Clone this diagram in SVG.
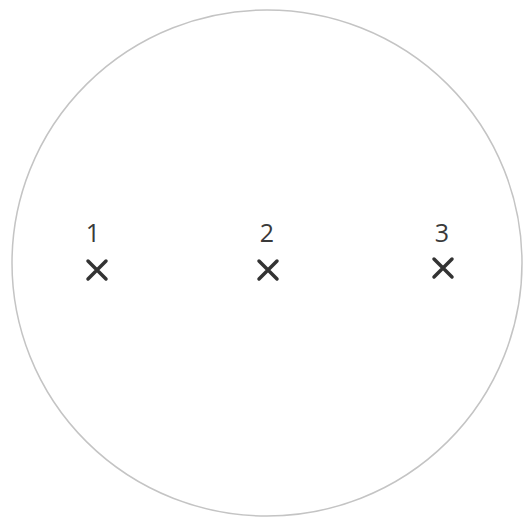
<svg xmlns="http://www.w3.org/2000/svg" width="524" height="519" viewBox="0 0 524 519">
<style>
.mark{stroke:#333;stroke-width:3.5;stroke-linecap:round;fill:none}
.lbl{font-family:"Open Sans","Noto Sans",sans-serif;font-size:25px;fill:#3a3a3a;text-anchor:middle}
</style>
<rect width="524" height="519" fill="#fff"/>
<g id="circle"><ellipse cx="267" cy="263" rx="255" ry="253" fill="none" stroke="#c4c4c4" stroke-width="1.5"/></g>
<g id="p1"><path class="mark" d="M88,261 L106,279 M106,261 L88,279"/><text class="lbl" x="93" y="242">1</text></g>
<g id="p2"><path class="mark" d="M259,261 L277,279 M277,261 L259,279"/><text class="lbl" x="267" y="242">2</text></g>
<g id="p3"><path class="mark" d="M434,259 L452,277 M452,259 L434,277"/><text class="lbl" x="442" y="242">3</text></g>
</svg>
